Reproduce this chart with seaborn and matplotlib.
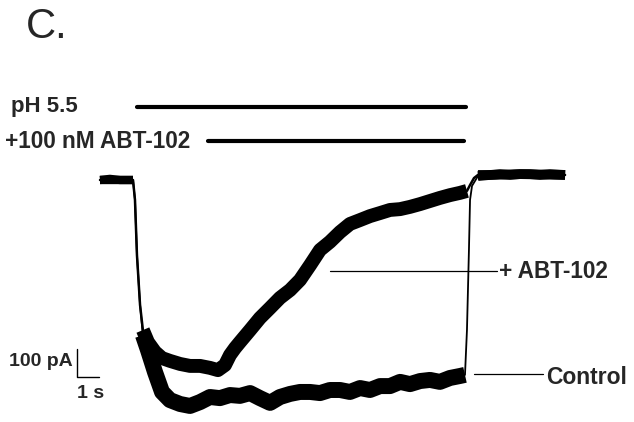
import numpy as np
import pandas as pd
import seaborn as sns
import matplotlib.pyplot as plt

# whole-cell current traces, time in s, current in pA
ctrl_t = [0.0, 0.45, 0.91, 1.50, 1.59, 1.68, 1.82, 1.95, 2.18, 2.50, 2.82, 3.18, 3.64, 4.09,
          4.55, 5.00, 5.45, 5.91, 6.36, 6.82, 7.27, 7.73, 8.18, 8.64, 9.09, 9.55, 10.0, 10.45,
          10.91, 11.36, 11.82, 12.27, 12.73, 13.18, 13.64, 14.09, 14.55, 15.0, 15.45, 15.91,
          16.36, 16.59, 16.68, 16.77, 16.82, 16.91, 17.18, 17.73, 19.09, 21.14]
ctrl_i = [0, 4, 0, 0, -71, -268, -446, -554, -607, -686, -757, -786, -800, -807,
          -793, -775, -779, -768, -771, -761, -779, -796, -775, -764, -757, -757, -761, -750,
          -750, -757, -743, -750, -736, -736, -721, -729, -718, -714, -721, -707,
          -700, -696, -536, -250, -71, -21, 14, 18, 21, 18]

abt_t = [0.0, 0.45, 0.91, 1.50, 1.59, 1.68, 1.82, 1.95, 2.18, 2.50, 2.82, 3.18, 3.64, 4.09,
         4.55, 5.00, 5.36, 5.68, 5.91, 6.14, 6.36, 6.82, 7.27, 7.73, 8.18, 8.64, 9.09, 9.55,
         10.0, 10.45, 10.91, 11.36, 11.82, 12.27, 12.73, 13.18, 13.64, 14.09, 14.55, 15.0,
         15.45, 15.91, 16.36, 16.68, 16.82, 17.0, 17.18, 17.73, 18.18, 18.64, 19.09, 19.55,
         20.0, 20.45, 21.14]
abt_i = [0, 0, 0, 0, -71, -268, -446, -536, -579, -614, -636, -646, -657, -664,
         -664, -671, -679, -661, -625, -600, -579, -536, -493, -457, -421, -393, -357, -304,
         -250, -221, -186, -157, -143, -129, -118, -107, -104, -96, -86, -75,
         -64, -54, -46, -39, -18, 7, 18, 18, 21, 18, 21, 21,
         18, 21, 18]

# application bars (start, end in s) and their labels
bar_labels = ["pH 5.5", "+100 nM ABT-102"]
bar_start = [1.68, 4.91]
bar_end = [16.64, 16.55]

trace_labels = ["+ ABT-102", "Control"]

# pixel -> data helpers (figure is 634x422 px)
def tx(x):
    return (x - 100) / 22.0

def iy(y):
    return (180 - y) / 28.0 * 100

sns.set_style("white")
plt.rcParams["font.family"] = ["Liberation Sans", "DejaVu Sans"]

fig = plt.figure(figsize=(6.34, 4.22), dpi=100)
ax = fig.add_axes([0, 0, 1, 1])
ax.set_xlim(tx(0), tx(634))
ax.set_ylim(iy(422), iy(0))
ax.axis("off")

# noise band widths per part of each trace (time window, linewidth)
bands = {
    "ctrl": [(-1, 1.5, 6), (1.85, 16.6, 11.5), (17.15, 99, 7)],
    "abt": [(-1, 1.5, 6), (1.85, 16.7, 10), (17.15, 99, 7)],
}

for key, t, i in [("ctrl", ctrl_t, ctrl_i), ("abt", abt_t, abt_i)]:
    df = pd.DataFrame({"t": t, "i": i})
    lw_thin = 1.3 if key == "ctrl" else 1.8
    sns.lineplot(data=df, x="t", y="i", sort=False, estimator=None, color="black", lw=lw_thin, ax=ax)
    for lo, hi, w in bands[key]:
        part = df[(df.t >= lo) & (df.t <= hi)]
        sns.lineplot(data=part, x="t", y="i", sort=False, estimator=None, color="black",
                     lw=w, solid_capstyle="butt", ax=ax)

# application bars
for s, e, y in zip(bar_start, bar_end, [iy(107), iy(141)]):
    ax.plot([s, e], [y, y], color="black", lw=3, solid_capstyle="round")
ax.text(tx(11), iy(107), bar_labels[0], fontsize=16, fontweight="bold", va="center", ha="left")
ax.text(tx(5), iy(141), bar_labels[1], fontsize=16.3, fontweight="bold", va="center", ha="left")

# trace labels with pointer lines
ax.plot([tx(330), tx(497)], [iy(271), iy(271)], color="black", lw=0.9)
ax.text(tx(499), iy(272), trace_labels[0], fontsize=16.3, fontweight="bold", va="center", ha="left")
ax.plot([tx(474), tx(543)], [iy(374), iy(374)], color="black", lw=0.9)
ax.text(tx(546), iy(377), trace_labels[1], fontsize=16.5, fontweight="bold", va="center", ha="left")

# scale bar 100 pA / 1 s
x0, y0 = tx(77), iy(377)
ax.plot([x0, x0, x0 + 1], [y0 + 100, y0, y0], color="black", lw=1)
ax.text(tx(73), iy(362), "100 pA", fontsize=14, fontweight="bold", va="center", ha="right")
ax.text(tx(77), iy(394), "1 s", fontsize=14, fontweight="bold", va="center", ha="left")

ax.text(tx(26), iy(27), "C.", fontsize=30, va="center", ha="left")

fig.savefig("out.png", dpi=100)
